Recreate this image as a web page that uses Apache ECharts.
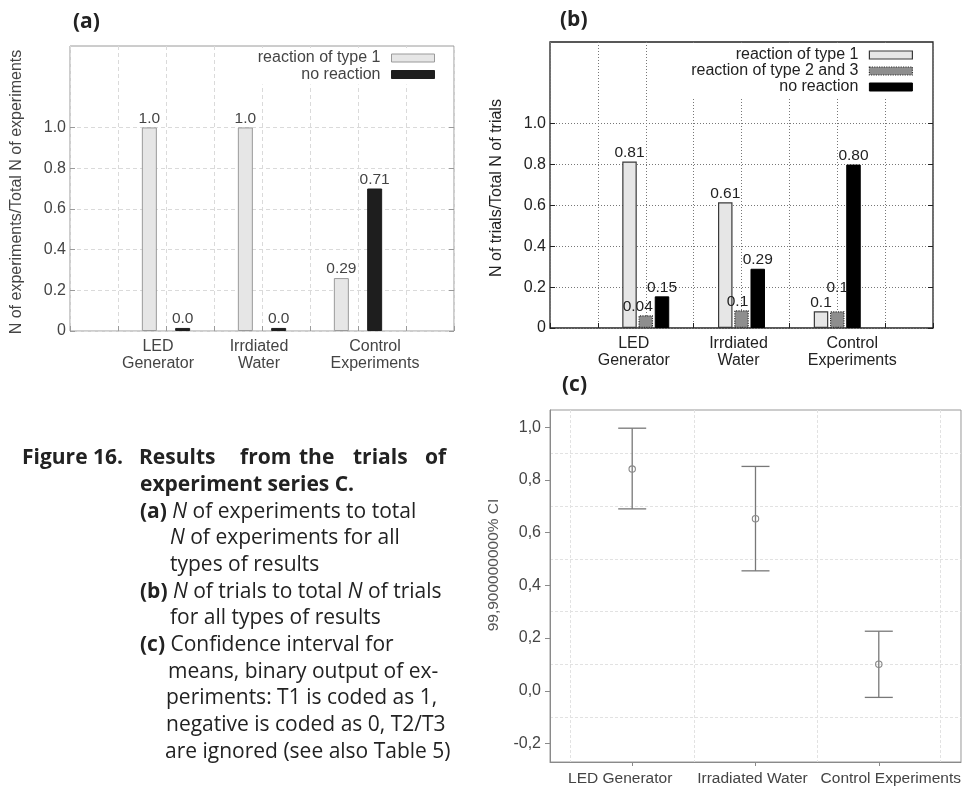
<!DOCTYPE html>
<html><head><meta charset="utf-8">
<script src="https://cdn.jsdelivr.net/npm/echarts@6/dist/echarts.min.js"></script>
<style>html,body{margin:0;padding:0;background:#fff}#c{width:964px;height:787px}</style>
</head><body><div id="c"></div>
<script>
// ---------- data ----------
const categoriesAB = ['LED\nGenerator', 'Irrdiated\nWater', 'Control\nExperiments'];
const categoriesC = ['LED Generator', 'Irradiated Water', 'Control Experiments'];
const legendA = ['reaction of type 1', 'no reaction'];
const legendB = ['reaction of type 1', 'reaction of type 2 and 3', 'no reaction'];

const aType1 = [1.0, 1.0, 0.26];
const aNoReaction = [0.015, 0.015, 0.70];
const aType1Labels = ['1.0', '1.0', '0.29'];
const aNoReactionLabels = ['0.0', '0.0', '0.71'];

const bType1 = [0.815, 0.615, 0.082];
const bType23 = [0.062, 0.087, 0.082];
const bNoReaction = [0.155, 0.29, 0.80];
const bType1Labels = ['0.81', '0.61', '0.1'];
const bType23Labels = ['0.04', '0.1', '0.1'];
const bNoReactionLabels = ['0.15', '0.29', '0.80'];

const cMean = [0.841, 0.653, 0.101];
const cLower = [0.690, 0.455, -0.025];
const cUpper = [0.996, 0.851, 0.226];

const abTicks = [0, 0.2, 0.4, 0.6, 0.8, 1.0];
const cTicks = [-0.2, 0, 0.2, 0.4, 0.6, 0.8, 1.0];
const cGridTicks = [-0.1, 0.1, 0.3, 0.5, 0.7, 0.9];
const catPositions = [1, 2, 3];

// ---------- styling ----------
const FONT = 'Liberation Sans, Arial, sans-serif';
const CAP = 'Open Sans, Noto Sans, sans-serif';
const aShift = [-8, -3, 17];
const bShift = [-12, -3, 15];
const cShift = [-12, -3, 12];
const bType23LabelOffset = [[-8, 0], [-4, 0], [0, -15]];

function shiftRich(shift, extra) {
  const r = {};
  shift.forEach((s, i) => {
    r['s' + i] = Object.assign({ padding: s < 0 ? [0, -2 * s, 0, 0] : [0, 0, 0, 2 * s] }, extra);
  });
  return r;
}
function catFormatter(names) {
  return function (v) {
    const i = Math.round(v) - 1;
    if (i < 0 || i >= names.length) return '';
    return names[i].split('\n').map(t => '{s' + i + '|' + t + '}').join('\n');
  };
}
function pairs(arr) { return arr.map((v, i) => [catPositions[i], v]); }

const chart = echarts.init(document.getElementById('c'), null, { renderer: 'canvas' });

const captionLines = [
  { x: 140, y: 485, t: '{b|experiment series C.}' },
  { x: 140, y: 512, t: '{b|(a)} {i|N} of experiments to total' },
  { x: 170, y: 538, t: '{i|N} of experiments for all' },
  { x: 170, y: 565, t: 'types of results' },
  { x: 140, y: 592, t: '{b|(b)} {i|N} of trials to total {i|N} of trials' },
  { x: 170, y: 618, t: 'for all types of results' },
  { x: 140, y: 645, t: '{b|(c)} Confidence interval for' },
  { x: 168, y: 672, t: 'means, binary output of ex-' },
  { x: 166, y: 698, t: 'periments: T1 is coded as 1,' },
  { x: 166, y: 725, t: 'negative is coded as 0, T2/T3' },
  { x: 165, y: 752, t: 'are ignored (see also Table 5)' }
];
const line1Words = [
  { x: 22, t: 'Figure 16.' }, { x: 139, t: 'Results' }, { x: 240, t: 'from' },
  { x: 299, t: 'the' }, { x: 353, t: 'trials' }, { x: 425, t: 'of' }
];
const capRich = { b: { fontWeight: 'bold', fontFamily: CAP, fontSize: 21, fill: '#222' },
                  i: { fontStyle: 'italic', fontFamily: CAP, fontSize: 21, fill: '#222' } };
const graphics = [];
line1Words.forEach(w => graphics.push({ type: 'text', x: w.x, y: 458,
  style: { text: w.t, fontFamily: CAP, fontSize: 21, fontWeight: 'bold', fill: '#222', verticalAlign: 'middle' } }));
captionLines.forEach(l => graphics.push({ type: 'text', x: l.x, y: l.y,
  style: { text: l.t, fontFamily: CAP, fontSize: 21, fill: '#222', verticalAlign: 'middle', rich: capRich } }));
[{ x: 73, y: 22, t: '(a)' }, { x: 560, y: 20, t: '(b)' }, { x: 562, y: 385, t: '(c)' }].forEach(p =>
  graphics.push({ type: 'text', x: p.x, y: p.y,
    style: { text: p.t, fontFamily: CAP, fontSize: 21, fontWeight: 'bold', fill: '#222', verticalAlign: 'middle' } }));

const colA = '#444', colB = '#222', colC = '#444';

const option = {
  animation: false,
  backgroundColor: '#fff',
  textStyle: { fontFamily: FONT },
  graphic: graphics,
  grid: [
    { left: 70, top: 46, right: 510, bottom: 456, show: true, borderColor: '#9a9a9a', borderWidth: 1, containLabel: false },
    { left: 550, top: 42, right: 31, bottom: 459, show: true, borderColor: '#222', borderWidth: 1.3, containLabel: false },
    { left: 550, top: 410, right: -2, bottom: 24, show: true, borderColor: '#999', borderWidth: 1, containLabel: false }
  ],
  legend: [
    {
      data: legendA.map((n, i) => ({ name: n, itemStyle: i === 0
        ? { color: '#e6e6e6', borderColor: '#9a9a9a', borderWidth: 1 }
        : { color: '#1e1e1e', borderColor: '#1e1e1e', borderWidth: 1 } })),
      orient: 'vertical', right: 525, top: 48, align: 'right', icon: 'rect',
      itemWidth: 43, itemHeight: 8, itemGap: 0.5, padding: [2, 4, 2, 8],
      backgroundColor: '#fff', selectedMode: false,
      textStyle: { fontSize: 16, color: colA, fontFamily: FONT, lineHeight: 14.5, padding: [0, 6, 0, 0] }
    },
    {
      data: legendB.map((n, i) => ({ name: n, itemStyle: [
        { color: '#e6e6e6', borderColor: '#3a3a3a', borderWidth: 1.2 },
        { color: '#8e8e8e', borderColor: '#333', borderWidth: 1.2, borderType: 'dotted' },
        { color: '#000', borderColor: '#000', borderWidth: 1 }][i] })),
      orient: 'vertical', right: 47, top: 45, align: 'right', icon: 'rect',
      itemWidth: 43, itemHeight: 8, itemGap: 0, padding: [2, 4, 2, 8],
      backgroundColor: '#fff', selectedMode: false,
      textStyle: { fontSize: 16, color: colB, fontFamily: FONT, lineHeight: 16, padding: [0, 6, 0, 0] }
    }
  ],
  xAxis: [
    { gridIndex: 0, type: 'value', min: 0, max: 4, interval: 0.5,
      axisLine: { show: false, onZero: false },
      axisTick: { show: true, inside: true, length: 5, lineStyle: { color: '#9a9a9a' } },
      splitLine: { show: true, lineStyle: { color: '#dadada', type: [4, 3], width: 1 } },
      axisLabel: { customValues: catPositions, formatter: catFormatter(categoriesAB), margin: 7,
        fontSize: 16, color: colA, lineHeight: 17, rich: shiftRich(aShift, { fontSize: 16, color: colA, lineHeight: 17 }) } },
    { gridIndex: 1, type: 'value', min: 0, max: 4, interval: 0.5,
      axisLine: { show: false, onZero: false },
      axisTick: { show: true, inside: true, length: 5, lineStyle: { color: '#222' } },
      splitLine: { show: true, lineStyle: { color: '#777', type: [1, 2], width: 1 } },
      axisLabel: { customValues: catPositions, formatter: catFormatter(categoriesAB), margin: 7,
        fontSize: 16, color: colB, lineHeight: 17, rich: shiftRich(bShift, { fontSize: 16, color: colB, lineHeight: 17 }) } },
    { gridIndex: 2, type: 'value', min: 1 / 3, max: 11 / 3,
      axisLine: { show: true, onZero: false, lineStyle: { color: '#8a8a8a', width: 1 } },
      axisTick: { show: true, inside: false, length: 4, customValues: catPositions, lineStyle: { color: '#8a8a8a' } },
      splitLine: { show: false },
      axisLabel: { customValues: catPositions, formatter: catFormatter(categoriesC), margin: 9,
        fontSize: 15.5, color: colC, rich: shiftRich(cShift, { fontSize: 15.5, color: colC }) } },
    { gridIndex: 2, type: 'value', min: 1 / 3, max: 11 / 3, position: 'top',
      axisLine: { show: false, onZero: false }, axisLabel: { show: false },
      axisTick: { show: false, customValues: [0.5, 1.5, 2.5, 3.5] },
      splitLine: { show: true, lineStyle: { color: '#e2e2e2', type: [3, 2], width: 1 } } }
  ],
  yAxis: [
    { gridIndex: 0, type: 'value', min: 0, max: 1.4,
      axisLine: { show: false, onZero: false },
      axisTick: { show: true, inside: true, length: 5, customValues: abTicks, lineStyle: { color: '#9a9a9a' } },
      axisLabel: { customValues: abTicks, margin: 4, fontSize: 16, color: colA,
        formatter: v => v === 0 ? '0' : v.toFixed(1) },
      splitLine: { show: true, lineStyle: { color: '#dadada', type: [4, 3], width: 1 } },
      name: 'N of experiments/Total N of experiments', nameLocation: 'middle', nameGap: 45,
      nameTextStyle: { fontSize: 16, color: colA, fontFamily: FONT, padding: [0, 7, 0, 0] } },
    { gridIndex: 0, type: 'value', min: 0, max: 1.4, position: 'right',
      axisLine: { show: false, onZero: false }, axisLabel: { show: false }, splitLine: { show: false },
      axisTick: { show: true, inside: true, length: 5, customValues: abTicks, lineStyle: { color: '#9a9a9a' } } },
    { gridIndex: 1, type: 'value', min: 0, max: 1.4,
      axisLine: { show: false, onZero: false },
      axisTick: { show: true, inside: true, length: 5, customValues: abTicks, lineStyle: { color: '#222' } },
      axisLabel: { customValues: abTicks, margin: 4, fontSize: 16, color: colB,
        formatter: v => v === 0 ? '0' : v.toFixed(1) },
      splitLine: { show: true, lineStyle: { color: '#777', type: [1, 2], width: 1 } },
      name: 'N of trials/Total N of trials', nameLocation: 'middle', nameGap: 45,
      nameTextStyle: { fontSize: 16, color: colB, fontFamily: FONT, padding: [0, 6, 0, 0] } },
    { gridIndex: 1, type: 'value', min: 0, max: 1.4, position: 'right',
      axisLine: { show: false, onZero: false }, axisLabel: { show: false }, splitLine: { show: false },
      axisTick: { show: true, inside: true, length: 5, customValues: abTicks, lineStyle: { color: '#222' } } },
    { gridIndex: 2, type: 'value', min: -0.27, max: 1.065,
      axisLine: { show: true, onZero: false, lineStyle: { color: '#8a8a8a', width: 1 } },
      axisTick: { show: true, inside: false, length: 5, customValues: cTicks, lineStyle: { color: '#8a8a8a' } },
      axisLabel: { customValues: cTicks, margin: 9, fontSize: 16, color: colC,
        formatter: v => v.toFixed(1).replace('.', ',') },
      splitLine: { show: false },
      name: '99,900000000% CI', nameLocation: 'middle', nameGap: 48,
      nameTextStyle: { fontSize: 15.5, color: '#555', fontFamily: FONT, padding: [0, 0, 0, 42] } },
    { gridIndex: 2, type: 'value', min: -0.27, max: 1.065, position: 'right',
      axisLine: { show: false, onZero: false }, axisLabel: { show: false },
      axisTick: { show: false, customValues: cGridTicks },
      splitLine: { show: true, lineStyle: { color: '#e2e2e2', type: [3, 2], width: 1 } } }
  ],
  series: [
    { name: legendA[0], type: 'bar', xAxisIndex: 0, yAxisIndex: 0, data: pairs(aType1),
      barWidth: 15, barGap: '122%',
      itemStyle: { color: '#e6e6e6', borderColor: '#9a9a9a', borderWidth: 1 },
      label: { show: true, position: 'top', distance: 1, fontSize: 15.5, color: colA, fontFamily: FONT,
        formatter: p => aType1Labels[p.dataIndex] } },
    { name: legendA[1], type: 'bar', xAxisIndex: 0, yAxisIndex: 0, data: pairs(aNoReaction),
      barWidth: 15, barGap: '122%',
      itemStyle: { color: '#1e1e1e', borderColor: '#1e1e1e', borderWidth: 1 },
      label: { show: true, position: 'top', distance: 1, fontSize: 15.5, color: colA, fontFamily: FONT,
        formatter: p => aNoReactionLabels[p.dataIndex] } },
    { name: legendB[0], type: 'bar', xAxisIndex: 1, yAxisIndex: 2, data: pairs(bType1),
      barWidth: 14.5, barGap: '12%',
      itemStyle: { color: '#e6e6e6', borderColor: '#3a3a3a', borderWidth: 1.2 },
      label: { show: true, position: 'top', distance: 1, fontSize: 15.5, color: colB, fontFamily: FONT,
        formatter: p => bType1Labels[p.dataIndex] } },
    { name: legendB[1], type: 'bar', xAxisIndex: 1, yAxisIndex: 2,
      data: pairs(bType23).map((d, i) => ({ value: d, label: { offset: bType23LabelOffset[i] } })),
      barWidth: 14.5, barGap: '12%',
      itemStyle: { color: '#8e8e8e', borderColor: '#333', borderWidth: 1.2, borderType: 'dotted' },
      label: { show: true, position: 'top', distance: 1, fontSize: 15.5, color: colB, fontFamily: FONT,
        formatter: p => bType23Labels[p.dataIndex] } },
    { name: legendB[2], type: 'bar', xAxisIndex: 1, yAxisIndex: 2, data: pairs(bNoReaction),
      barWidth: 14.5, barGap: '12%',
      itemStyle: { color: '#000', borderColor: '#000', borderWidth: 1 },
      label: { show: true, position: 'top', distance: 1, fontSize: 15.5, color: colB, fontFamily: FONT,
        formatter: p => bNoReactionLabels[p.dataIndex] } },
    { name: 'CI', type: 'custom', xAxisIndex: 2, yAxisIndex: 4,
      data: cMean.map((m, i) => [catPositions[i], cLower[i], cUpper[i], m]),
      renderItem: function (params, api) {
        const x = api.value(0);
        const lo = api.coord([x, api.value(1)]);
        const hi = api.coord([x, api.value(2)]);
        const me = api.coord([x, api.value(3)]);
        const hw = 14;
        const st = { stroke: '#787878', lineWidth: 1.3 };
        return { type: 'group', children: [
          { type: 'line', shape: { x1: hi[0], y1: hi[1], x2: lo[0], y2: lo[1] }, style: st },
          { type: 'line', shape: { x1: hi[0] - hw, y1: hi[1], x2: hi[0] + hw, y2: hi[1] }, style: st },
          { type: 'line', shape: { x1: lo[0] - hw, y1: lo[1], x2: lo[0] + hw, y2: lo[1] }, style: st },
          { type: 'circle', shape: { cx: me[0], cy: me[1], r: 3.2 }, style: { fill: 'rgba(0,0,0,0)', stroke: '#888', lineWidth: 1.1 } }
        ] };
      } }
  ]
};
chart.setOption(option);
</script></body></html>
